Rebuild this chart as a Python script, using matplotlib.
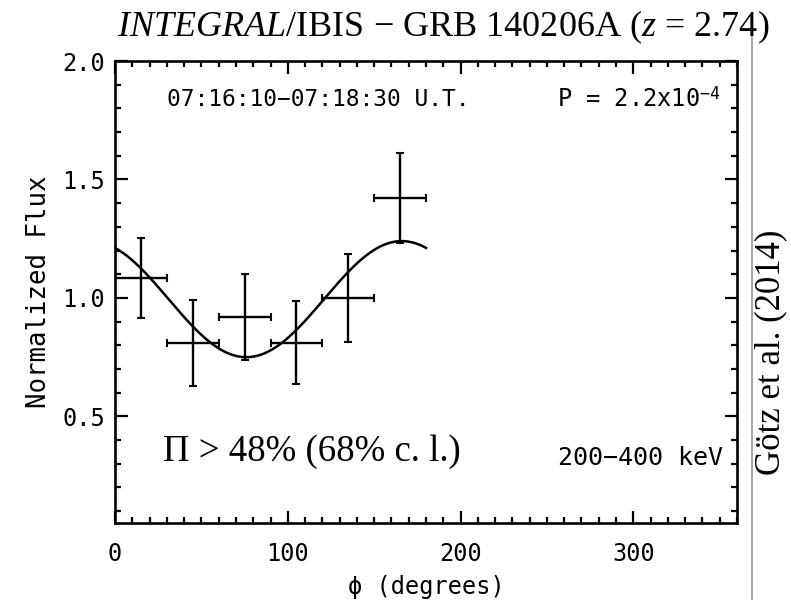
import numpy as np
import matplotlib
matplotlib.use("Agg")
import matplotlib.pyplot as plt
from matplotlib.lines import Line2D
from matplotlib.ticker import MultipleLocator

plt.rcParams['mathtext.fontset'] = 'custom'
plt.rcParams['mathtext.rm'] = 'DejaVu Sans Mono'
plt.rcParams['mathtext.it'] = 'Liberation Serif:italic'

# Polarization bins (phi centre, half width) and normalized flux
phi = [15, 45, 75, 105, 135, 165]
phi_err = [15, 15, 15, 15, 15, 15]
flux = [1.085, 0.81, 0.92, 0.81, 1.00, 1.42]
flux_err = [0.17, 0.18, 0.18, 0.175, 0.185, 0.19]

# Fitted modulation curve parameters
mod_mean = 0.995
mod_amp = 0.245
mod_phi0 = 166.0

mono = 'DejaVu Sans Mono'
serif = 'Liberation Serif'
fs = 17

fig = plt.figure(figsize=(7.91, 6.0), dpi=100)
ax = fig.add_axes([0.1454, 0.1283, 0.7863, 0.770])

ax.errorbar(phi, flux, xerr=phi_err, yerr=flux_err, fmt='none',
            ecolor='black', elinewidth=1.7, capsize=3, capthick=1.5)

phi_fit = np.linspace(0, 180, 300)
flux_fit = mod_mean + mod_amp * np.cos(2 * np.radians(phi_fit - mod_phi0))
ax.plot(phi_fit, flux_fit, color='black', lw=1.8)

ax.set_xlim(0, 360)
ax.set_ylim(0.05, 2.0)
ax.xaxis.set_major_locator(MultipleLocator(100))
ax.xaxis.set_minor_locator(MultipleLocator(10))
ax.yaxis.set_major_locator(MultipleLocator(0.5))
ax.yaxis.set_minor_locator(MultipleLocator(0.1))
ax.set_yticks([0.5, 1.0, 1.5, 2.0])

ax.tick_params(which='both', direction='in', top=True, right=True, width=1.6)
ax.tick_params(which='major', length=9)
ax.tick_params(which='minor', length=4.5)
ax.tick_params(axis='x', pad=14)
ax.tick_params(axis='y', pad=7)
for lab in ax.get_xticklabels() + ax.get_yticklabels():
    lab.set_fontfamily(mono)
    lab.set_fontsize(fs)
for sp in ax.spines.values():
    sp.set_linewidth(1.9)

ax.set_xlabel('\u03d5 (degrees)', fontfamily=mono, fontsize=fs)
ax.set_ylabel('Normalized Flux', fontfamily=mono, fontsize=18.5)
ax.xaxis.set_label_coords(0.5, -0.139)
ax.xaxis.label.set_va('center')
ax.yaxis.set_label_coords(-0.122, 0.5)
ax.yaxis.label.set_va('center')

ax.text(0.0836, 0.916, '07:16:10\u221207:18:30 U.T.', transform=ax.transAxes,
        fontfamily=mono, fontsize=16.5, ha='left', va='center')
ax.text(0.973, 0.916, 'P = 2.2x10$^{-4}$', transform=ax.transAxes,
        fontfamily=mono, fontsize=fs, ha='right', va='center')
ax.text(0.977, 0.141, '200\u2212400 keV', transform=ax.transAxes,
        fontfamily=mono, fontsize=18, ha='right', va='center')
ax.text(0.077, 0.154, '\u03a0 > 48% (68% c. l.)', transform=ax.transAxes,
        fontfamily=serif, fontsize=26.5, ha='left', va='center')

fig.text(0.56, 0.955, '$\\mathit{INTEGRAL}$/IBIS \u2212 GRB 140206A ($\\mathit{z}$ = 2.74)',
         fontfamily=serif, fontsize=26, ha='center', va='center')

# Reference credit separated by a thin rule
fig.add_artist(Line2D([752 / 791, 752 / 791], [0, 1 - 35 / 600],
                      color='#a8a8a8', lw=1.5))
fig.text(771 / 791, 1 - 352 / 600, 'G\u00f6tz et al. (2014)', rotation=90,
         fontfamily=serif, fontsize=25, ha='center', va='center')

fig.savefig('out.png', dpi=100)
